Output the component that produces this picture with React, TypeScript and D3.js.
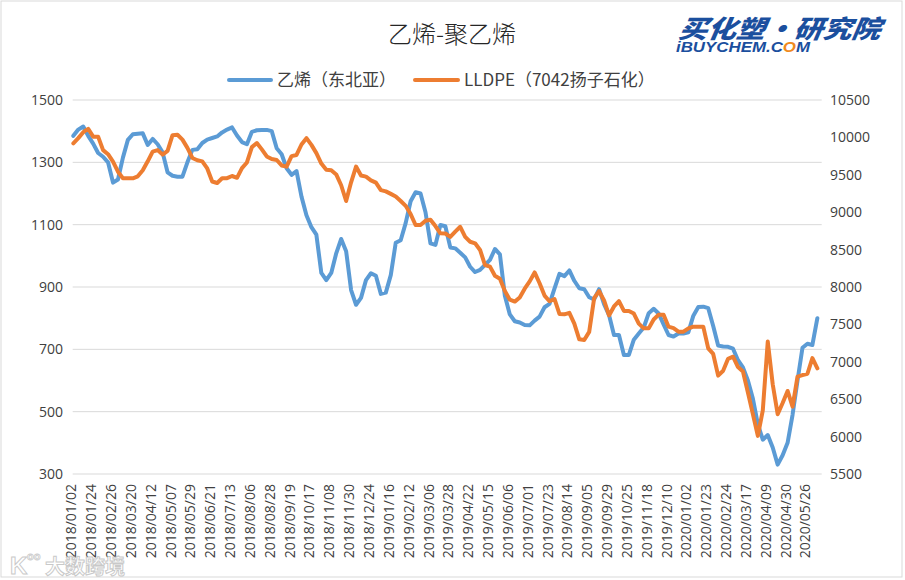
import React from "react";
import * as d3 from "d3";

// ---- data ----
const xLabels = [
  "2018/01/02", "2018/01/24", "2018/02/26", "2018/03/20", "2018/04/12", "2018/05/07",
  "2018/05/29", "2018/06/21", "2018/07/13", "2018/08/06", "2018/08/28", "2018/09/19",
  "2018/10/17", "2018/11/08", "2018/11/30", "2018/12/24", "2019/01/16", "2019/02/12",
  "2019/03/06", "2019/03/28", "2019/04/22", "2019/05/15", "2019/06/06", "2019/07/01",
  "2019/07/23", "2019/08/14", "2019/09/05", "2019/09/29", "2019/10/25", "2019/11/18",
  "2019/12/10", "2020/01/02", "2020/01/23", "2020/02/24", "2020/03/17", "2020/04/09",
  "2020/04/30", "2020/05/26",
];
const LABEL_STEP = 16; // categories between two x labels
const SAMPLE_STEP = 4; // categories between two read values
const N_CATEGORIES = 604;

const ethylene = [
  1385, 1405, 1415, 1385, 1360, 1330, 1318, 1300, 1235, 1245,
  1315, 1372, 1390, 1392, 1393, 1356, 1375, 1358, 1332, 1268,
  1257, 1254, 1254, 1300, 1340, 1342, 1362, 1373, 1378, 1383,
  1396, 1405, 1412, 1386, 1365, 1358, 1398, 1403, 1404, 1404,
  1400, 1345, 1326, 1281, 1260, 1272, 1190, 1130, 1092, 1068,
  945, 922, 945, 1008, 1054, 1015, 890, 843, 865, 922,
  944, 936, 878, 882, 938, 1042, 1050, 1105, 1175, 1204,
  1200, 1140, 1040, 1035, 1099, 1095, 1027, 1024, 1010, 995,
  965, 948, 955, 971, 987, 1022, 1005, 872, 812, 790,
  786, 778, 777, 792, 805, 835, 846, 895, 942, 935,
  953, 920, 896, 893, 867, 860, 893, 845, 810, 746,
  746, 682, 682, 731, 751, 770, 816, 830, 815, 780,
  746, 741, 751, 751, 755, 808, 836, 837, 832, 775,
  712, 709, 708, 702, 665, 642, 600, 542, 460, 410,
  425, 385, 330, 360, 400, 490, 600, 705, 718, 714,
  800,
];
const lldpe = [
  9921, 9990, 10070, 10115, 10010, 10010, 9830, 9775, 9676, 9541,
  9455, 9453, 9453, 9480, 9560, 9680, 9810, 9830, 9770, 9820,
  10030, 10035, 9970, 9860, 9725, 9695, 9680, 9585, 9410, 9390,
  9453, 9455, 9484, 9460, 9590, 9665, 9870, 9925, 9840, 9745,
  9710, 9698, 9625, 9609, 9750, 9765, 9905, 9990, 9900, 9790,
  9650, 9568, 9560, 9505, 9360, 9150, 9400, 9610, 9490, 9475,
  9425, 9395, 9295, 9278, 9245, 9210, 9150, 9085, 8975, 8829,
  8829, 8885, 8900, 8815, 8718, 8715, 8670, 8740, 8805, 8670,
  8605, 8584, 8495, 8294, 8272, 8150, 8110, 7945, 7830, 7805,
  7860, 7978, 8075, 8195, 8050, 7885, 7810, 7840, 7640, 7635,
  7655, 7510, 7300, 7292, 7400, 7850, 7945, 7820, 7620, 7740,
  7810, 7680, 7680, 7645, 7510, 7447, 7447, 7565, 7630, 7630,
  7470, 7450, 7403, 7403, 7447, 7470, 7470, 7470, 7180, 7105,
  6815, 6880, 7040, 7068, 6930, 6870, 6590, 6300, 6010, 6350,
  7270, 6700, 6300, 6450, 6610, 6400, 6802, 6823, 6840, 7050,
  6913,
];
const leftTicks = [300, 500, 700, 900, 1100, 1300, 1500];
const rightTicks = [5500, 6000, 6500, 7000, 7500, 8000, 8500, 9000, 9500, 10000, 10500];
const title = "乙烯-聚乙烯";
const seriesNames = ["乙烯（东北亚）", "LLDPE（7042扬子石化）"];

// ---- layout ----
const W = 905;
const H = 580;
const plot = { left: 72.7, right: 821.7, top: 100, bottom: 474 };
const BLUE = "#5B9BD5";
const ORANGE = "#ED7D31";
const GRID = "#D9D9D9";
const NUM_FONT = "'Open Sans', 'Liberation Sans', sans-serif";
const CJK_FONT = "'Noto Sans CJK SC', 'Noto Sans', sans-serif";

export default function App() {
  const x = d3.scaleLinear().domain([-0.5, N_CATEGORIES - 0.5]).range([plot.left, plot.right]);
  const yL = d3.scaleLinear().domain([300, 1500]).range([plot.bottom, plot.top]);
  const yR = d3.scaleLinear().domain([5500, 10500]).range([plot.bottom, plot.top]);

  const lineL = d3
    .line<number>()
    .x((_, i) => x(i * SAMPLE_STEP))
    .y((d) => yL(d));
  const lineR = d3
    .line<number>()
    .x((_, i) => x(i * SAMPLE_STEP))
    .y((d) => yR(d));

  return (
    <svg
      width={W}
      height={H}
      style={{ position: "absolute", left: 0, top: 0, background: "#fff" }}
    >
      <rect x={1} y={1} width={901} height={576} fill="#fff" stroke={GRID} strokeWidth={1} />

      {/* title */}
      <text x={452} y={43} textAnchor="middle" fontFamily={CJK_FONT} fontSize={24} fontWeight={300} fill="#262626">
        {title}
      </text>

      {/* logo */}
      <g fontFamily={CJK_FONT} fontStyle="italic" fontWeight={900} fill="#1B4F9E">
        <text x={678} y={38} fontSize={25} textLength={202} lengthAdjust="spacingAndGlyphs"
          transform="skewX(-8) translate(5,0)">
          买化塑·研究院
        </text>
        <text x={676} y={52} fontSize={15} fontFamily="'Liberation Sans', sans-serif"
          textLength={134} lengthAdjust="spacingAndGlyphs">
          iBUYCHEM.C<tspan fill="#F08A1C">O</tspan>M
        </text>
      </g>

      {/* legend */}
      <g fontFamily={CJK_FONT} fontSize={17} fill="#404040">
        <line x1={229} x2={271} y1={80} y2={80} stroke={BLUE} strokeWidth={4} strokeLinecap="round" />
        <text x={277} y={86}>{seriesNames[0]}</text>
        <line x1={415} x2={458} y1={80} y2={80} stroke={ORANGE} strokeWidth={4} strokeLinecap="round" />
        <text x={464} y={86}>{seriesNames[1]}</text>
      </g>

      {/* gridlines */}
      {leftTicks.map((t) => (
        <line key={t} x1={plot.left} x2={plot.right} y1={yL(t)} y2={yL(t)} stroke={GRID} strokeWidth={1} />
      ))}

      {/* axis labels */}
      <g fontFamily={NUM_FONT} fontSize={14} fill="#404040">
        {leftTicks.map((t) => (
          <text key={t} x={63} y={yL(t)} dy="0.35em" textAnchor="end">{t}</text>
        ))}
        {rightTicks.map((t) => (
          <text key={t} x={830} y={yR(t)} dy="0.35em" textAnchor="start">{t}</text>
        ))}
      </g>

      {/* x labels */}
      <g fontFamily={NUM_FONT} fontSize={14} fill="#404040">
        {xLabels.map((l, i) => {
          const px = x(i * LABEL_STEP) - 2;
          const py = 484;
          return (
            <text key={l} transform={`translate(${px},${py}) rotate(-90)`} dy="0.36em" textAnchor="end">
              {l}
            </text>
          );
        })}
      </g>

      {/* series */}
      <path d={lineL(ethylene) || ""} fill="none" stroke={BLUE} strokeWidth={4}
        strokeLinejoin="round" strokeLinecap="round" />
      <path d={lineR(lldpe) || ""} fill="none" stroke={ORANGE} strokeWidth={4}
        strokeLinejoin="round" strokeLinecap="round" />

      {/* watermark */}
      <g opacity={0.75}>
        <text x={10} y={574} fontFamily="'Liberation Sans', sans-serif" fontSize={24} fontWeight={700}
          fill="#fff" stroke="#b8b8b8" strokeWidth={1}>K</text>
        <text x={27} y={560} fontFamily="'Liberation Sans', sans-serif" fontSize={11} fontWeight={700}
          fill="#fff" stroke="#b8b8b8" strokeWidth={0.8}>oo</text>
        <text x={45} y={574} fontFamily={CJK_FONT} fontSize={20} fontWeight={700}
          fill="#fff" stroke="#b8b8b8" strokeWidth={1}>大数跨境</text>
      </g>
    </svg>
  );
}
